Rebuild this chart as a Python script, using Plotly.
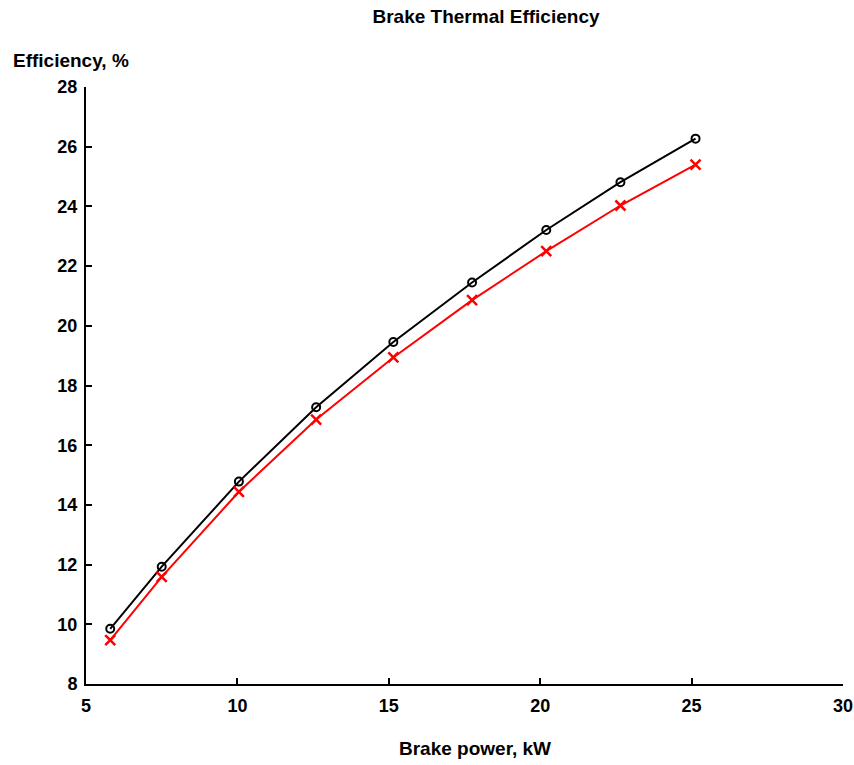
import plotly.graph_objects as go

power_kw = [5.8, 7.5, 10.05, 12.6, 15.15, 17.75, 20.2, 22.65, 25.13]
eff_black = [9.85, 11.93, 14.78, 17.27, 19.46, 21.45, 23.21, 24.81, 26.27]
eff_red = [9.47, 11.59, 14.44, 16.86, 18.94, 20.86, 22.50, 24.03, 25.40]

x_ticks = [5, 10, 15, 20, 25, 30]
y_ticks = [8, 10, 12, 14, 16, 18, 20, 22, 24, 26, 28]

FONT = "Liberation Sans, Arial, sans-serif"

fig = go.Figure()
fig.add_trace(go.Scatter(
    x=power_kw, y=eff_black, mode="lines+markers",
    line=dict(color="black", width=2),
    marker=dict(symbol="circle-open", size=8, color="black", line=dict(width=2)),
    showlegend=False,
))
fig.add_trace(go.Scatter(
    x=power_kw, y=eff_red, mode="lines+markers",
    line=dict(color="#ff0000", width=2),
    marker=dict(symbol="x-thin-open", size=10, color="#ff0000", line=dict(width=2.5, color="#ff0000")),
    showlegend=False,
))

axis_common = dict(
    showline=True, linecolor="black", linewidth=2,
    ticks="inside", ticklen=6, tickwidth=2, tickcolor="black",
    showgrid=False, zeroline=False, automargin=False,
    tickfont=dict(family=FONT, size=18, color="black", weight="bold"),
)

fig.update_xaxes(range=[5, 30], tickvals=x_ticks, ticklabelstandoff=4, **axis_common)
fig.update_yaxes(range=[8, 28], tickvals=y_ticks, ticklabelstandoff=3, **axis_common)

H = 765
fig.update_layout(
    width=854, height=765,
    paper_bgcolor="white", plot_bgcolor="white",
    margin=dict(l=86, r=11, t=87, b=81),
    title=dict(text="Brake Thermal Efficiency", x=486 / 854, xanchor="center",
               y=1 - 16 / H, yanchor="middle",
               font=dict(family=FONT, size=19, color="black", weight="bold")),
    annotations=[
        dict(text="Efficiency, %", xref="paper", yref="paper",
             x=(11 - 86) / 757, y=(684 - 61) / 597, xanchor="left", yanchor="middle",
             showarrow=False,
             font=dict(family=FONT, size=19, color="black", weight="bold")),
        dict(text="Brake power, kW", xref="paper", yref="paper",
             x=(475 - 86) / 757, y=(684 - 748) / 597, xanchor="center", yanchor="middle",
             showarrow=False,
             font=dict(family=FONT, size=19, color="black", weight="bold")),
    ],
)

fig.write_html("out.html", config={"displayModeBar": False},
               post_script="document.body.style.margin='0';")
